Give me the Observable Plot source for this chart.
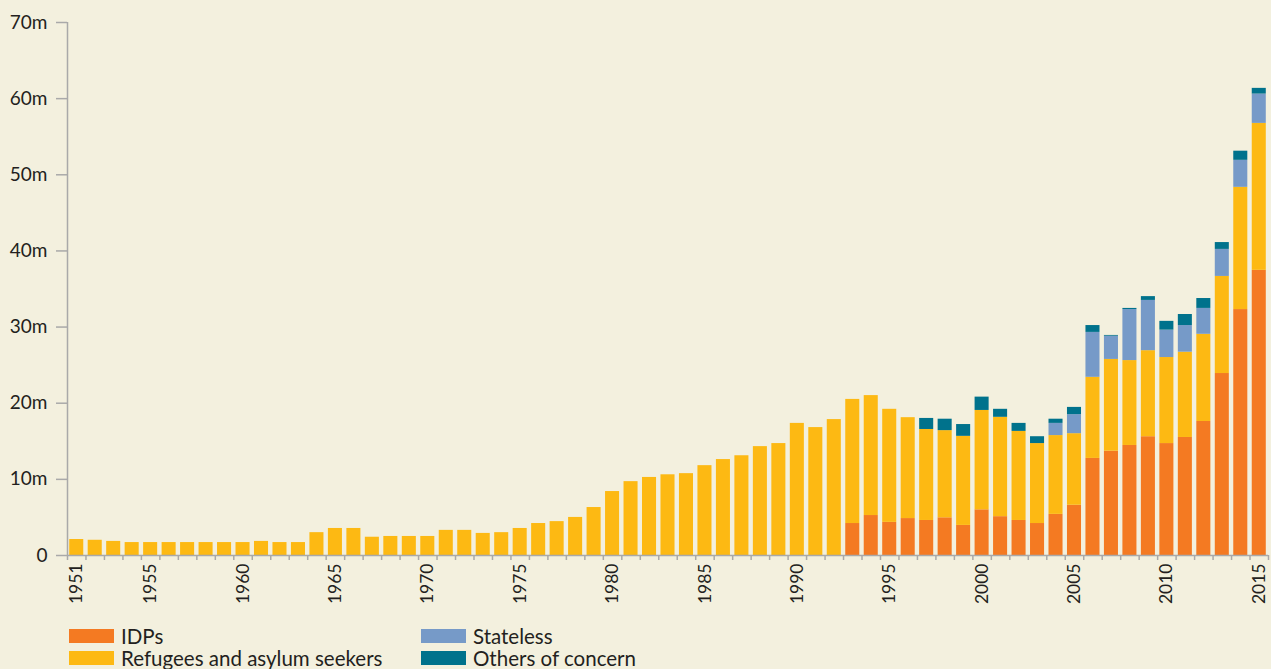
<!DOCTYPE html>
<html>
<head>
<meta charset="utf-8">
<script src="https://cdn.jsdelivr.net/npm/d3@7"></script>
<script src="https://cdn.jsdelivr.net/npm/@observablehq/plot@0.6"></script>
<style>
  html, body { margin: 0; padding: 0; background: #F3F0DE; }
  body { width: 1271px; height: 669px; position: relative; overflow: hidden; font-family: Lato, "Open Sans", sans-serif; color: #231f20; }
  #chart { position: absolute; left: 0; top: 0; }
  #legend { position: absolute; left: 69px; top: 629px; display: grid; grid-template-columns: 352px auto; row-gap: 8px; }
  .item { display: flex; align-items: center; height: 14px; font-size: 20.5px; line-height: 14px; }
  .sw { width: 45px; height: 14px; margin-right: 7px; flex: none; }
</style>
</head>
<body>
<div id="chart"></div>
<div id="legend"></div>
<script>
const years = [1951,1952,1953,1954,1955,1956,1957,1958,1959,1960,
  1961,1962,1963,1964,1965,1966,1967,1968,1969,1970,
  1971,1972,1973,1974,1975,1976,1977,1978,1979,1980,
  1981,1982,1983,1984,1985,1986,1987,1988,1989,1990,
  1991,1992,1993,1994,1995,1996,1997,1998,1999,2000,
  2001,2002,2003,2004,2005,2006,2007,2008,2009,2010,
  2011,2012,2013,2014,2015];
const labelYears = [1951,1955,1960,1965,1970,1975,1980,1985,1990,1995,2000,2005,2010,2015];
const yTicks = [0,10,20,30,40,50,60,70];

// values in millions
const idps = [0,0,0,0,0,0,0,0,0,0,
  0,0,0,0,0,0,0,0,0,0,
  0,0,0,0,0,0,0,0,0,0,
  0,0,0,0,0,0,0,0,0,0,
  0,0,4.2,5.25,4.35,4.85,4.6,4.95,3.95,6.0,
  5.1,4.6,4.2,5.4,6.6,12.75,13.7,14.45,15.6,14.7,
  15.5,17.6,23.9,32.3,37.45];
const refugees = [2.1,2.0,1.85,1.7,1.7,1.7,1.7,1.7,1.7,1.7,
  1.85,1.7,1.7,3.0,3.55,3.55,2.4,2.5,2.5,2.5,
  3.3,3.3,2.9,3.0,3.55,4.2,4.45,5.0,6.3,8.4,
  9.7,10.25,10.6,10.75,11.8,12.6,13.1,14.3,14.7,17.35,
  16.8,17.85,16.3,15.75,14.85,13.25,11.95,11.45,11.7,13.05,
  13.05,11.7,10.5,10.35,9.4,10.65,12.05,11.15,11.3,11.3,
  11.2,11.45,12.75,16.05,19.3];
const stateless = [0,0,0,0,0,0,0,0,0,0,
  0,0,0,0,0,0,0,0,0,0,
  0,0,0,0,0,0,0,0,0,0,
  0,0,0,0,0,0,0,0,0,0,
  0,0,0,0,0,0,0,0,0,0,
  0,0,0,1.6,2.5,5.9,3.05,6.7,6.6,3.6,
  3.5,3.4,3.55,3.55,3.85];
const others = [0,0,0,0,0,0,0,0,0,0,
  0,0,0,0,0,0,0,0,0,0,
  0,0,0,0,0,0,0,0,0,0,
  0,0,0,0,0,0,0,0,0,0,
  0,0,0,0,0,0,1.45,1.5,1.55,1.75,
  1.05,1.05,0.9,0.55,0.95,0.9,0.1,0.15,0.5,1.15,
  1.45,1.3,0.9,1.2,0.75];

const seriesNames = ["IDPs", "Refugees and asylum seekers", "Stateless", "Others of concern"];
const seriesColors = ["#F47A22", "#FDB913", "#769AC8", "#00728C"];
const seriesValues = [idps, refugees, stateless, others];

const rows = [];
seriesNames.forEach((name, si) => {
  years.forEach((yr, i) => {
    const v = seriesValues[si][i];
    if (v > 0) rows.push({year: yr, series: name, value: v});
  });
});

const W = 1271, H = 612, mL = 67, mR = 3, mT = 22, mB = 57;
const step = (W - mL - mR) / years.length;
const axisGrey = "#A9A9A9";
const textColor = "#231f20";

const chart = Plot.plot({
  width: W, height: H,
  marginLeft: mL, marginRight: mR, marginTop: mT, marginBottom: mB,
  style: {background: "#F3F0DE", fontFamily: "Lato, 'Open Sans', sans-serif", color: textColor},
  x: {type: "band", domain: years, paddingInner: 0.24, paddingOuter: 0.12, label: null},
  y: {domain: [0, 70], label: null},
  color: {domain: seriesNames, range: seriesColors},
  marks: [
    Plot.barY(rows, {x: "year", y: "value", fill: "series", order: seriesNames}),
    Plot.ruleY([0], {stroke: axisGrey, strokeWidth: 1.5}),
    Plot.ruleX([years[0]], {x: d => d, dx: -step / 2, y1: 0, y2: 70, stroke: axisGrey, strokeWidth: 1.5}),
    Plot.axisX({ticks: years, tickSize: 5, tickFormat: () => "", stroke: axisGrey, strokeWidth: 1.5, dx: -step / 2, label: null}),
    Plot.axisX({ticks: [years[years.length - 1]], tickSize: 5, tickFormat: () => "", stroke: axisGrey, strokeWidth: 1.5, dx: step / 2, label: null}),
    Plot.axisX({ticks: labelYears, tickSize: 0, tickPadding: 8, tickRotate: -90, fontSize: 17.5, fill: textColor, tickFormat: d => String(d), label: null}),
    Plot.axisY({ticks: yTicks, tickSize: 11, tickPadding: 9, fontSize: 19, stroke: axisGrey, strokeWidth: 1.5, fill: textColor,
      tickFormat: d => d === 0 ? "0" : d + "m", label: null})
  ]
});
document.getElementById("chart").appendChild(chart);

const legendOrder = [0, 2, 1, 3];
const legend = document.getElementById("legend");
legendOrder.forEach(i => {
  const it = document.createElement("div");
  it.className = "item";
  const sw = document.createElement("span");
  sw.className = "sw";
  sw.style.background = seriesColors[i];
  const tx = document.createElement("span");
  tx.textContent = seriesNames[i];
  it.appendChild(sw);
  it.appendChild(tx);
  legend.appendChild(it);
});
</script>
</body>
</html>
